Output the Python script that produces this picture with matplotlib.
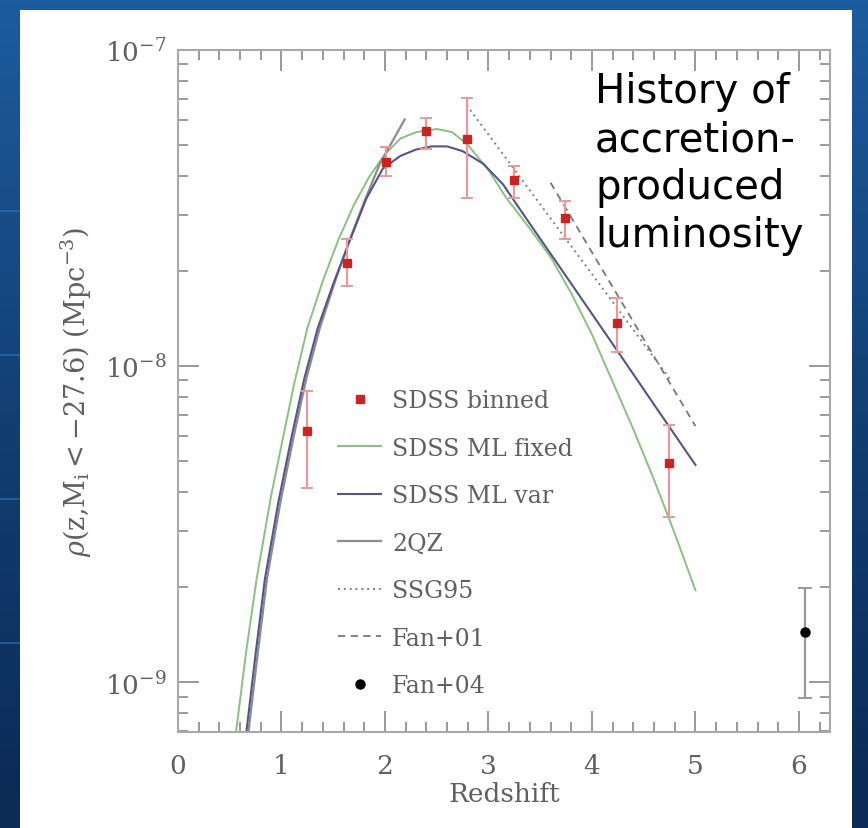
import numpy as np
import matplotlib
matplotlib.use("Agg")
import matplotlib.pyplot as plt
from matplotlib.patches import Rectangle
from matplotlib.lines import Line2D
from matplotlib.colors import LinearSegmentedColormap
from matplotlib.ticker import NullFormatter, FixedLocator

plt.rcParams['mathtext.fontset'] = 'dejavuserif'

# SDSS binned data (redshift, density, error bar ends)
bin_z = [1.25, 1.63, 2.01, 2.40, 2.79, 3.25, 3.74, 4.24, 4.74]
bin_rho = [6.24e-9, 2.12e-8, 4.41e-8, 5.56e-8, 5.23e-8, 3.89e-8, 2.93e-8, 1.37e-8, 4.92e-9]
bin_hi = [8.35e-9, 2.53e-8, 4.92e-8, 6.10e-8, 7.06e-8, 4.31e-8, 3.34e-8, 1.64e-8, 6.52e-9]
bin_lo = [4.12e-9, 1.79e-8, 3.98e-8, 4.86e-8, 3.41e-8, 3.40e-8, 2.53e-8, 1.11e-8, 3.33e-9]

# Fan+04 point
fan04_z = [6.06]
fan04_rho = [1.44e-9]
fan04_hi = [1.98e-9]
fan04_lo = [8.93e-10]

# model curves, log10 density
fixed_z = [0.56, 0.66, 0.76, 0.90, 1.00, 1.12, 1.25, 1.40, 1.55, 1.70, 1.85, 2.00, 2.15,
           2.30, 2.50, 2.65, 2.80, 3.00, 3.17, 3.40, 3.60, 3.80, 4.00, 4.20, 4.40, 4.60,
           4.80, 5.00]
fixed_log = [-9.16, -8.90, -8.673, -8.41, -8.25, -8.06, -7.88, -7.73, -7.60, -7.49, -7.40,
             -7.33, -7.28, -7.26, -7.25, -7.26, -7.30, -7.38, -7.467, -7.565, -7.655,
             -7.77, -7.90, -8.05, -8.20, -8.36, -8.53, -8.71]

var_z = [0.66, 0.75, 0.84, 0.97, 1.10, 1.22, 1.35, 1.50, 1.66, 1.82, 1.98, 2.15, 2.30,
         2.45, 2.60, 2.75, 2.95, 3.14, 3.40, 3.70, 4.00, 4.30, 4.60, 5.00]
var_log = [-9.16, -8.91, -8.673, -8.43, -8.22, -8.04, -7.88, -7.74, -7.603, -7.47, -7.375,
           -7.335, -7.315, -7.305, -7.305, -7.32, -7.36, -7.425, -7.55, -7.692, -7.835,
           -7.978, -8.122, -8.313]

qz_z = [0.68, 0.77, 0.86, 0.99, 1.12, 1.24, 1.37, 1.52, 1.66, 1.80, 1.95, 2.07, 2.19]
qz_log = [-9.16, -8.91, -8.673, -8.43, -8.22, -8.04, -7.88, -7.73, -7.60, -7.48, -7.36,
          -7.29, -7.22]

ssg_z = [2.79, 4.75]
ssg_log = [-7.175, -8.04]

fan01_z = [3.60, 5.00]
fan01_log = [-7.42, -8.19]

y_major = [1e-9, 1e-8, 1e-7]

W, H = 868, 829
fig = plt.figure(figsize=(W / 100, H / 100), dpi=100)

# slide background: blue gradient with white panel
cmap = LinearSegmentedColormap.from_list('slide', ['#1d5c9e', '#123f74', '#0b2a55'])
grad = np.tile(np.linspace(0, 1, H)[:, None], (1, W))
fig.figimage(grad, xo=0, yo=0, cmap=cmap, zorder=-10)
for yy in [212, 356, 500, 644]:
    fig.add_artist(Line2D([0, 20 / W], [1 - yy / H] * 2, transform=fig.transFigure,
                          color='#3f7cc0', lw=1.2, alpha=0.6, zorder=-9))
fig.patches.append(Rectangle((20 / W, 0), (852 - 20) / W, (H - 11) / H,
                             transform=fig.transFigure, facecolor='white',
                             edgecolor='none', zorder=-5))

ax = fig.add_axes([178 / W, 1 - 733 / H, (830 - 178) / W, (733 - 51) / H])
ax.set_facecolor('white')

c_fixed = '#86c47e'
c_var = '#55558e'
c_qz = '#8c8c8c'
c_red = '#cc2222'
c_err = '#e89a9a'

ax.plot(fixed_z, 10 ** np.array(fixed_log), color=c_fixed, lw=1.4)
ax.plot(qz_z, 10 ** np.array(qz_log), color=c_qz, lw=1.6)
ax.plot(var_z, 10 ** np.array(var_log), color=c_var, lw=1.5)
ax.plot(ssg_z, 10 ** np.array(ssg_log), color='#808080', lw=1.4, ls=(0, (1, 2)))
ax.plot(fan01_z, 10 ** np.array(fan01_log), color='#777777', lw=1.3, ls=(0, (4, 3)))

bin_rho_a = np.array(bin_rho)
yerr = [bin_rho_a - np.array(bin_lo), np.array(bin_hi) - bin_rho_a]
ax.errorbar(bin_z, bin_rho, yerr=yerr, fmt='none', ecolor=c_err, elinewidth=1.6,
            capsize=4, capthick=1.4, zorder=3)
ax.plot(bin_z, bin_rho, 's', color=c_red, ms=6, zorder=4)

f04 = np.array(fan04_rho)
ax.errorbar(fan04_z, fan04_rho, yerr=[f04 - np.array(fan04_lo), np.array(fan04_hi) - f04],
            fmt='o', color='black', ms=6.5, ecolor='#999999', elinewidth=1.6,
            capsize=5, capthick=1.4, zorder=4)

ax.set_yscale('log')
ax.set_xlim(0, 6.3)
ax.set_ylim(6.95e-10, 1e-7)
ax.yaxis.set_major_locator(FixedLocator(y_major))
ax.set_xticks(range(0, 7))
ax.set_xticks(np.arange(0, 6.31, 0.2), minor=True)
ax.yaxis.set_minor_formatter(NullFormatter())
ax.xaxis.set_minor_formatter(NullFormatter())

gray = '#a8a8a8'
for s in ax.spines.values():
    s.set_color(gray)
    s.set_linewidth(1.5)
ax.tick_params(which='both', direction='in', top=True, right=True, color='#999999',
               width=1.4, labelcolor='#606060')
ax.tick_params(which='major', length=15, labelsize=19)
ax.tick_params(which='minor', length=7.5)
ax.tick_params(axis='x', pad=15)
ax.tick_params(axis='y', pad=8)
for lab in ax.get_xticklabels() + ax.get_yticklabels():
    lab.set_family('DejaVu Serif')

ax.set_xlabel('Redshift', fontsize=19, family='DejaVu Serif', color='#606060', labelpad=2)
ax.set_ylabel(r'$\rho$(z,M$_{\rm i}$$<$$-$27.6) (Mpc$^{-3}$)', fontsize=19.5,
              family='DejaVu Serif', color='#606060', labelpad=8)

handles = [
    Line2D([], [], marker='s', color=c_red, ls='none', ms=6),
    Line2D([], [], color=c_fixed, lw=1.4),
    Line2D([], [], color=c_var, lw=1.5),
    Line2D([], [], color=c_qz, lw=1.6),
    Line2D([], [], color='#808080', lw=1.4, ls=(0, (1, 2))),
    Line2D([], [], color='#777777', lw=1.3, ls=(0, (4, 3))),
    Line2D([], [], marker='o', color='black', ls='none', ms=6.5),
]
labels = ['SDSS binned', 'SDSS ML fixed', 'SDSS ML var', '2QZ', 'SSG95', 'Fan+01', 'Fan+04']
leg = ax.legend(handles, labels, loc='upper left', bbox_to_anchor=(0.245, 0.503),
                frameon=False, borderpad=0, borderaxespad=0, handlelength=1.85,
                handletextpad=0.45, labelspacing=1.04,
                prop={'family': 'DejaVu Serif', 'size': 17})
for t in leg.get_texts():
    t.set_color('#606060')

fig.text(595 / W, 1 - 72 / H, 'History of\naccretion-\nproduced\nluminosity',
         ha='left', va='top', fontsize=29, family='DejaVu Sans', color='black',
         linespacing=1.26)

fig.savefig('out.png', dpi=100)
